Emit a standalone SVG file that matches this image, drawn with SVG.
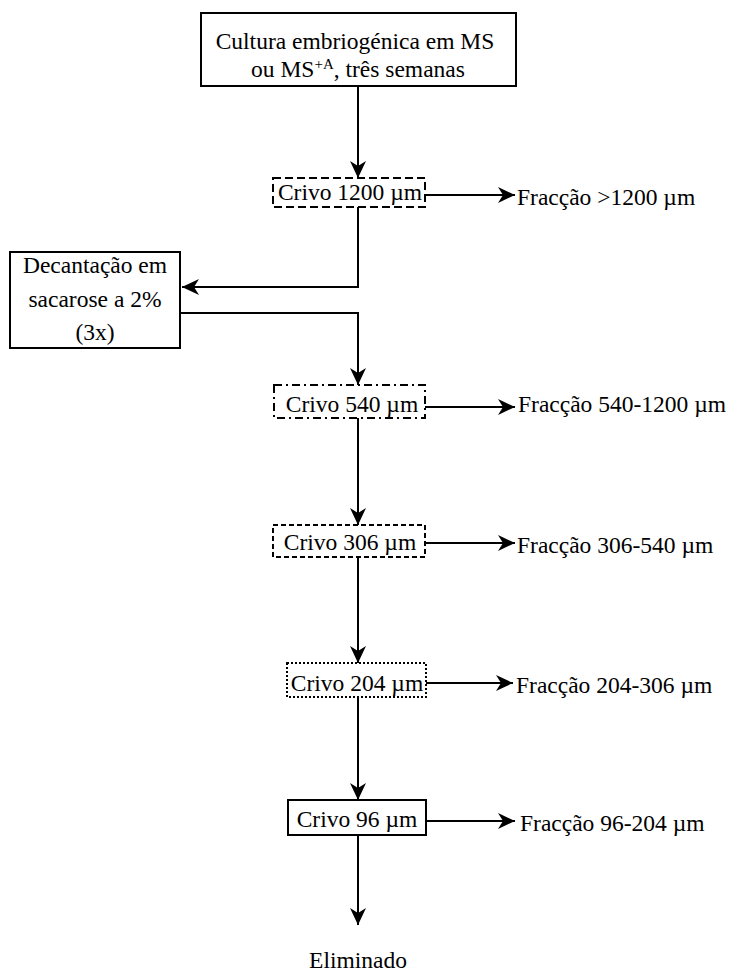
<svg xmlns="http://www.w3.org/2000/svg" width="734" height="974" viewBox="0 0 734 974">
<style>
  text { font-family: "Liberation Serif", "Tinos", "DejaVu Serif", "Times New Roman", serif; font-size: 23.5px; fill: #000; }
  .c { text-anchor: middle; }
  .box { fill: #fff; stroke: #000; stroke-width: 2; }
  .d1 { stroke-dasharray: 8 4; }
  .d2 { stroke-dasharray: 8 4 2 4; }
  .d3 { stroke-dasharray: 5 3; }
  .d4 { stroke-dasharray: 2 2; }
  .ln { fill: none; stroke: #000; stroke-width: 2; marker-end: url(#ah); }
</style>
<defs>
  <marker id="ah" markerUnits="userSpaceOnUse" markerWidth="18" markerHeight="16" refX="17" refY="8" orient="auto">
    <path d="M0,0 L17,8 L0,16 L5,8 z" fill="#000"/>
  </marker>
</defs>
<rect width="734" height="974" fill="#fff"/>
<g id="connectors">
  <line class="ln" x1="358" y1="86" x2="358" y2="178"/>
  <polyline class="ln" points="358,207 358,287 182,287"/>
  <polyline class="ln" points="180,313 358,313 358,385"/>
  <line class="ln" x1="358" y1="418" x2="358" y2="525"/>
  <line class="ln" x1="358" y1="557" x2="358" y2="663"/>
  <line class="ln" x1="358" y1="697" x2="358" y2="800"/>
  <line class="ln" x1="358" y1="835" x2="358" y2="925"/>
  <line class="ln" x1="425" y1="195" x2="515" y2="195"/>
  <line class="ln" x1="425" y1="407" x2="515" y2="407"/>
  <line class="ln" x1="425" y1="543" x2="515" y2="543"/>
  <line class="ln" x1="426" y1="683" x2="513" y2="683"/>
  <line class="ln" x1="426" y1="821" x2="515" y2="821"/>
</g>
<g id="cultura">
  <rect class="box" x="201" y="13" width="315" height="73"/>
  <text class="c" x="355" y="49" font-family="Liberation Serif, serif">Cultura embriogénica em MS</text>
  <text class="c" x="358" y="77" font-family="Liberation Serif, serif">ou MS<tspan font-size="15" dy="-8">+A</tspan><tspan dy="8">, três semanas</tspan></text>
</g>
<g id="crivo1200">
  <rect class="box d1" x="273" y="178" width="152" height="29"/>
  <text class="c" x="350" y="200">Crivo 1200 µm</text>
</g>
<g id="fr1200"><text x="517" y="205">Fracção &gt;1200 µm</text></g>
<g id="decantacao">
  <rect class="box" x="10" y="252" width="170" height="96"/>
  <text class="c" x="95" y="273">Decantação em</text>
  <text class="c" x="95" y="307">sacarose a 2%</text>
  <text class="c" x="95" y="340">(3x)</text>
</g>
<g id="crivo540">
  <rect class="box d2" x="274" y="385" width="151" height="33"/>
  <text class="c" x="352" y="412">Crivo 540 µm</text>
</g>
<g id="fr540"><text x="518" y="412">Fracção 540-1200 µm</text></g>
<g id="crivo306">
  <rect class="box d3" x="273" y="525" width="152" height="32"/>
  <text class="c" x="350" y="550">Crivo 306 µm</text>
</g>
<g id="fr306"><text x="517" y="553">Fracção 306-540 µm</text></g>
<g id="crivo204">
  <rect class="box d4" x="287" y="663" width="139" height="34"/>
  <text class="c" x="357" y="691">Crivo 204 µm</text>
</g>
<g id="fr204"><text x="516" y="693">Fracção 204-306 µm</text></g>
<g id="crivo96">
  <rect class="box" x="288" y="800" width="138" height="35"/>
  <text class="c" x="357" y="827">Crivo 96 µm</text>
</g>
<g id="fr96"><text x="520" y="831">Fracção 96-204 µm</text></g>
<g id="eliminado"><text class="c" x="358" y="968">Eliminado</text></g>
</svg>
